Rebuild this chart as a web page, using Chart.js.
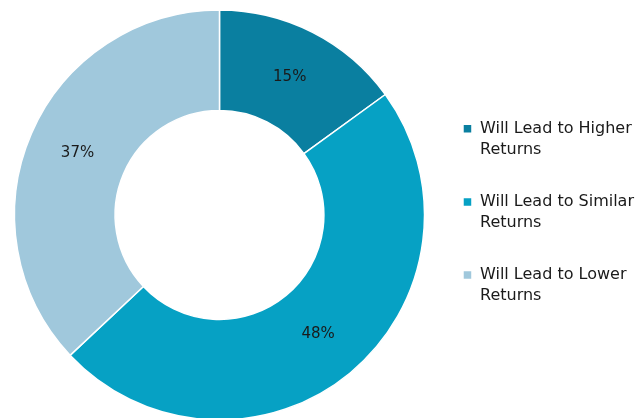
<!DOCTYPE html>
<html>
<head>
<meta charset="utf-8">
<script src="https://cdn.jsdelivr.net/npm/chart.js@4.4.1/dist/chart.umd.min.js"></script>
<style>
  html, body { margin: 0; padding: 0; background: #fff; overflow: hidden; }
  #wrap { position: relative; width: 644px; height: 418px; }
</style>
</head>
<body>
<div id="wrap"><canvas id="returns-chart"></canvas></div>
<script>
  'use strict'

  // Expected effect on returns
  var categories = [
    ['Will Lead to Higher', 'Returns'],
    ['Will Lead to Similar', 'Returns'],
    ['Will Lead to Lower', 'Returns']
  ]
  var shares = [15, 48, 37]
  var sliceColors = ['#0a7fa0', '#06a1c4', '#a0c8dc']

  var fontFamily = '"DejaVu Sans", sans-serif'

  // Percent labels at the middle of each slice
  var sliceLabels = {
    id: 'sliceLabels',
    afterDatasetsDraw: function (chart) {
      var ctx = chart.ctx
      var meta = chart.getDatasetMeta(0)
      ctx.save()
      ctx.font = '15px ' + fontFamily
      ctx.fillStyle = '#1a1a1a'
      ctx.textAlign = 'center'
      ctx.textBaseline = 'middle'
      meta.data.forEach(function (arc, i) {
        var p = arc.tooltipPosition()
        ctx.fillText(shares[i] + '%', p.x, p.y)
      })
      ctx.restore()
    }
  }

  var canvas = document.getElementById('returns-chart').getContext('2d')

  new Chart(canvas, {
    type: 'doughnut',
    data: {
      labels: categories,
      datasets: [{
        data: shares,
        backgroundColor: sliceColors,
        borderColor: '#ffffff',
        borderWidth: 1.5,
        radius: 205,
        cutout: 103
      }]
    },
    options: {
      responsive: true,
      maintainAspectRatio: false,
      animation: false,
      layout: {
        padding: { top: 12, left: 7, right: 0, bottom: 0 }
      },
      plugins: {
        tooltip: { enabled: false },
        legend: {
          position: 'right',
          labels: {
            boxWidth: 9,
            boxHeight: 9,
            padding: 31,
            color: '#1a1a1a',
            font: { family: fontFamily, size: 16, lineHeight: 1.32 }
          }
        }
      }
    },
    plugins: [sliceLabels]
  })
</script>
</body>
</html>
